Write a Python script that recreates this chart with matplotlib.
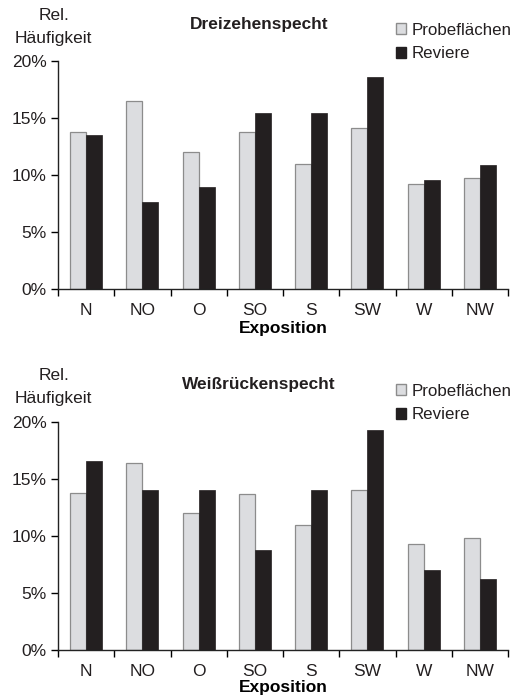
import numpy as np
from matplotlib import pyplot as plt
from matplotlib.patches import Patch

categories = ["N", "NO", "O", "SO", "S", "SW", "W", "NW"]

# Dreizehenspecht
drei_probe = [13.8, 16.5, 12.0, 13.8, 11.0, 14.1, 9.25, 9.75]
drei_revier = [13.5, 7.6, 8.95, 15.4, 15.4, 18.6, 9.55, 10.9]

# Weissrueckenspecht
weiss_probe = [13.8, 16.4, 12.0, 13.7, 10.95, 14.05, 9.3, 9.8]
weiss_revier = [16.6, 14.05, 14.05, 8.8, 14.05, 19.3, 7.0, 6.2]

yticks = [0, 5, 10, 15, 20]
ytick_labels = ["0%", "5%", "10%", "15%", "20%"]

GRAY = "#dcdde0"
GRAY_EDGE = "#8c8c8c"
BLACK = "#231f20"

plt.rcParams.update({
    "font.family": ["Liberation Sans", "DejaVu Sans"],
    "font.size": 12.5,
    "text.color": "#231f20",
})

W, H = 531, 696
fig = plt.figure(figsize=(W / 100, H / 100), dpi=100)

PANELS = [
    {"title": "Dreizehenspecht", "probe": drei_probe, "revier": drei_revier,
     "bottom": 289, "top": 61, "labelpad": 2},
    {"title": "Weißrückenspecht", "probe": weiss_probe, "revier": weiss_revier,
     "bottom": 650, "top": 422, "labelpad": 0.5},
]

x = np.arange(len(categories))
bw = 0.285

for pnl in PANELS:
    left, right = 58, 508
    ax = fig.add_axes([left / W, 1 - pnl["bottom"] / H, (right - left) / W,
                       (pnl["bottom"] - pnl["top"]) / H])
    ax.bar(x - bw / 2, pnl["probe"], bw, color=GRAY, edgecolor=GRAY_EDGE,
           linewidth=0.9)
    ax.bar(x + bw / 2, pnl["revier"], bw, color=BLACK, edgecolor=BLACK,
           linewidth=0.5)

    ax.set_xlim(-0.5, len(categories) - 0.5)
    ax.set_ylim(0, 20)
    ax.set_yticks(yticks)
    ax.set_yticklabels(ytick_labels)
    ax.set_xticks(x)
    ax.set_xticklabels(categories)
    ax.set_xticks(np.arange(len(categories) + 1) - 0.5, minor=True)
    ax.tick_params(axis="x", which="major", length=0, pad=10, labelsize=12.5,
                   labelcolor="#231f20")
    ax.tick_params(axis="x", which="minor", length=5, width=1)
    ax.tick_params(axis="y", length=5, width=1, pad=3, labelsize=12.5,
                   labelcolor="#231f20")
    ax.set_xlabel("Exposition", fontweight="bold", fontsize=12.5,
                  labelpad=pnl["labelpad"])

    ax.spines["top"].set_visible(False)
    ax.spines["right"].set_visible(False)
    for s in ["left", "bottom"]:
        ax.spines[s].set_linewidth(1)
        ax.spines[s].set_color("#222222")

    t = pnl["top"]
    fig.text(54 / W, 1 - (t - 46) / H, "Rel.", ha="center", va="center")
    fig.text(53 / W, 1 - (t - 23) / H, "Häufigkeit", ha="center", va="center")
    fig.text(259 / W, 1 - (t - 37) / H, pnl["title"], ha="center", va="center",
             fontsize=12.4, fontweight="bold")

    handles = [Patch(facecolor=GRAY, edgecolor=GRAY_EDGE, label="Probeflächen"),
               Patch(facecolor=BLACK, edgecolor=BLACK, label="Reviere")]
    fig.legend(handles=handles, loc="upper left",
               bbox_to_anchor=(394 / W, 1 - (t - 40) / H),
               frameon=False, handlelength=0.6, handleheight=0.6,
               handletextpad=0.35, labelspacing=0.5, fontsize=12.2,
               borderaxespad=0, borderpad=0.1)

fig.savefig("out.png", dpi=100)
